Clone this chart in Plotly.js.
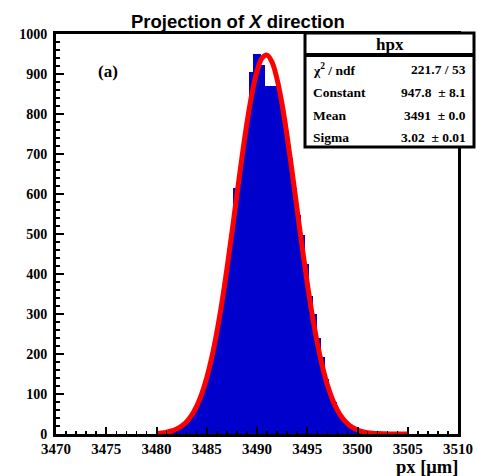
<!DOCTYPE html>
<html>
<head>
<meta charset="utf-8">
<script src="https://cdn.plot.ly/plotly-3.0.1.min.js"></script>
<style>html,body{margin:0;padding:0;background:#fff;}#chart{width:477px;height:476px;}</style>
</head>
<body>
<div id="chart"></div>
<script>
// Histogram: 100 bins of 0.4 um over 3470-3510; only the non-empty region is listed
const binCenters = [3480.2,3480.6,3481.0,3481.4,3481.8,3482.2,3482.6,3483.0,3483.4,3483.8,
  3484.2,3484.6,3485.0,3485.4,3485.8,3486.2,3486.6,3487.0,3487.4,3487.8,
  3488.2,3488.6,3489.0,3489.4,3489.8,3490.2,3490.6,3491.0,3491.4,3491.8,
  3492.2,3492.6,3493.0,3493.4,3493.8,3494.2,3494.6,3495.0,3495.4,3495.8,
  3496.2,3496.6,3497.0,3497.4,3497.8,3498.2,3498.6,3499.0,3499.4,3499.8,
  3500.2,3500.6,3501.0,3501.4,3501.8,3502.2,3502.6,3503.0];
const binCounts = [1,3,4,7,9,14,22,33,47,58,
  80,112,150,178,232,285,340,405,500,614,
  628,700,770,906,950,950,922,870,870,870,
  866,810,745,690,615,547,497,425,345,300,
  240,192,138,100,80,55,43,30,22,14,
  10,7,5,3,2,2,1,1];

// Gaussian fit curve, read at 0.5 um steps from 3480 to 3505
const fitX = [3480.0,3480.5,3481.0,3481.5,3482.0,3482.5,3483.0,3483.5,3484.0,3484.5,
  3485.0,3485.5,3486.0,3486.5,3487.0,3487.5,3488.0,3488.5,3489.0,3489.5,
  3490.0,3490.5,3491.0,3491.5,3492.0,3492.5,3493.0,3493.5,3494.0,3494.5,
  3495.0,3495.5,3496.0,3496.5,3497.0,3497.5,3498.0,3498.5,3499.0,3499.5,
  3500.0,3500.5,3501.0,3501.5,3502.0,3502.5,3503.0,3503.5,3504.0,3504.5,3505.0];
const fitY = [1.4,2.5,4.4,7.5,12.3,19.8,31.0,47.1,69.7,100.4,
  140.6,191.6,254.1,327.9,411.7,502.9,597.7,691.1,777.7,851.2,
  906.7,939.5,947.3,929.3,886.9,823.7,744.2,654.3,559.7,465.8,
  377.1,297.1,227.8,169.9,123.2,87.0,59.8,39.9,26.0,16.4,
  10.1,6.1,3.5,2.0,1.1,0.6,0.3,0.15,0.07,0.03,0.01];

const xTickVals = [3470,3475,3480,3485,3490,3495,3500,3505,3510];
const yTickVals = [0,100,200,300,400,500,600,700,800,900,1000];

const statLabels = ["χ<sup>2</sup> / ndf","Constant","Mean","Sigma"];
const statValues = ["221.7 / 53","947.8  ± 8.1","3491  ± 0.0","3.02  ± 0.01"];

const SERIF = "Liberation Serif, Times New Roman, serif";
const SANS = "Liberation Sans, Arial, sans-serif";

// plot area in pixels: x 56..458, y 34..434
const L = 56, R = 458, T = 34, B = 434, W = 477, H = 476;
const px = x => (x - L) / (R - L);
const py = y => (B - y) / (B - T);

const traces = [
  {type:'bar', x: binCenters, y: binCounts, width: 0.4,
   marker:{color:'#0000cc', line:{width:0}}, hoverinfo:'skip'},
  {type:'scatter', mode:'lines', x: fitX, y: fitY,
   line:{color:'#ff0000', width:5, shape:'spline'}, hoverinfo:'skip'}
];

const annotations = [
  {text:"<b>Projection of <i>X</i> direction</b>", x: px(238), y: py(22), xref:'paper', yref:'paper',
   showarrow:false, xanchor:'center', yanchor:'middle', font:{family:SANS, size:18.5, color:'#000'}},
  {text:"<b>(a)</b>", x: px(108), y: py(72), xref:'paper', yref:'paper',
   showarrow:false, xanchor:'center', yanchor:'middle', font:{family:SERIF, size:17, color:'#000'}},
  {text:"<b>px [μm]</b>", x: px(460), y: py(467), xref:'paper', yref:'paper',
   showarrow:false, xanchor:'right', yanchor:'middle', font:{family:SERIF, size:18.5, color:'#000'}},
  {text:"<b>hpx</b>", x: px(389.5), y: py(44), xref:'paper', yref:'paper',
   showarrow:false, xanchor:'center', yanchor:'middle', font:{family:SERIF, size:17, color:'#000'}}
];
const rowY = [69, 92, 115, 137];
statLabels.forEach((t, i) => {
  annotations.push({text:"<b>"+t+"</b>", x: px(311), y: py(rowY[i]), xref:'paper', yref:'paper',
    showarrow:false, xanchor:'left', yanchor:'middle', font:{family:SERIF, size:13.5, color:'#000'}});
  annotations.push({text:"<b>"+statValues[i]+"</b>", x: px(468), y: py(rowY[i]), xref:'paper', yref:'paper',
    showarrow:false, xanchor:'right', yanchor:'middle', font:{family:SERIF, size:13.5, color:'#000'}});
});

const shapes = [
  {type:'rect', xref:'paper', yref:'paper', x0: px(305), x1: px(474), y0: py(147), y1: py(33),
   line:{color:'#000', width:3}, fillcolor:'#fff', layer:'above'},
  {type:'line', xref:'paper', yref:'paper', x0: px(305), x1: px(474), y0: py(55), y1: py(55),
   line:{color:'#000', width:4}, layer:'above'}
];

const layout = {
  width: W, height: H,
  margin:{l:L, r:W-R, t:T, b:H-B, pad:0},
  paper_bgcolor:'#fff', plot_bgcolor:'#fff',
  showlegend:false, bargap:0,
  xaxis:{range:[3470,3510], tickmode:'array', tickvals:xTickVals, ticktext:xTickVals.map(String),
    ticks:'inside', ticklen:7, tickwidth:2, tickcolor:'#000',
    minor:{dtick:1, tick0:3470, ticks:'inside', ticklen:3.5, tickwidth:1.5, tickcolor:'#000', showgrid:false},
    showline:true, linecolor:'#000', linewidth:3, mirror:true, showgrid:false, zeroline:false,
    ticklabelstandoff:-1,
    tickfont:{family:SERIF, size:15, color:'#000', weight:'bold'}},
  yaxis:{range:[0,1000], tickmode:'array', tickvals:yTickVals, ticktext:yTickVals.map(String),
    ticks:'inside', ticklen:8, tickwidth:2, tickcolor:'#000',
    minor:{dtick:20, tick0:0, ticks:'inside', ticklen:4, tickwidth:1.5, tickcolor:'#000', showgrid:false},
    showline:true, linecolor:'#000', linewidth:3, mirror:true, showgrid:false, zeroline:false,
    ticklabelstandoff:3,
    tickfont:{family:SERIF, size:14, color:'#000', weight:'bold'}},
  annotations: annotations,
  shapes: shapes
};

Plotly.newPlot('chart', traces, layout, {staticPlot:true, displayModeBar:false});
</script>
</body>
</html>
